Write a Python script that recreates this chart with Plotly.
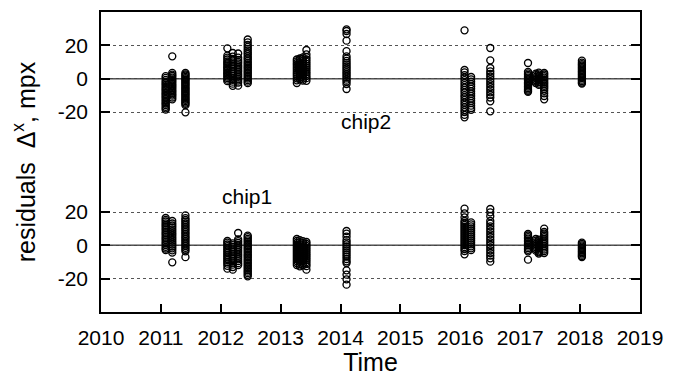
import plotly.graph_objects as go

# ---------------- data ----------------
CHIP2_OFFSET = 100  # chip2 is drawn shifted up by this many mpx

epochs = [2011.08, 2011.19, 2011.41, 2012.11, 2012.20, 2012.29, 2012.45,
          2013.27, 2013.32, 2013.37, 2013.43, 2014.10,
          2016.07, 2016.18, 2016.50, 2017.13, 2017.26, 2017.31, 2017.40, 2018.03]

chip2_res = [
    [1.5, 0.5, -0.8, -1.9, -2.7, -3.6, -4.5, -5.6, -6.3, -7.2, -8.1, -9.0, -9.8, -10.7, -11.5, -12.4, -13.3, -14.1, -15.0, -15.8, -16.9, -17.8, -18.6],
    [13.4, 3.5, 2.4, 1.6, 0.6, -0.4, -1.3, -2.1, -3.2, -4.0, -4.9, -5.7, -6.8, -7.6, -8.5, -9.4, -10.2, -11.3, -12.4],
    [3.4, 2.6, 1.9, 1.1, 0.3, -0.5, -1.2, -2.0, -2.8, -3.5, -4.3, -5.1, -5.8, -6.6, -7.4, -8.1, -8.9, -9.7, -10.4, -11.2, -12.0, -12.7, -13.5, -14.3, -15.1, -15.9, -20.2],
    [18.2, 13.8, 12.6, 11.5, 10.3, 9.4, 8.6, 7.5, 6.7, 5.8, 4.9, 3.9, 3.1, 2.2, 1.3, 0.4, -0.6, -1.5],
    [15.4, 13.2, 11.8, 10.9, 9.8, 8.7, 7.9, 6.8, 5.7, 4.6, 3.8, 2.7, 1.6, 0.5, -0.7, -1.8, -3.0, -4.3],
    [15.1, 12.6, 11.2, 10.1, 9.2, 8.0, 7.1, 6.1, 5.0, 4.1, 3.0, 2.0, 1.1, 0.0, -1.1, -2.3, -4.2],
    [23.5, 21.8, 20.3, 19.1, 17.9, 16.8, 15.6, 14.7, 13.5, 12.4, 11.6, 10.5, 9.5, 8.6, 7.6, 6.7, 5.8, 4.8, 3.9, 3.0, 2.0, 1.0, 0.1, -0.9, -1.8, -2.7],
    [11.5, 10.4, 9.3, 8.2, 7.0, 5.9, 4.8, 3.6, 2.5, 1.4, 0.2, -1.0, -2.6],
    [12.1, 11.0, 9.8, 8.7, 7.5, 6.3, 5.2, 4.1, 3.0, 1.9, 0.8, -0.4],
    [12.8, 11.7, 10.5, 9.3, 8.1, 6.9, 5.8, 4.6, 3.5, 2.3, 1.2, 0.0, -1.1],
    [17.2, 14.6, 12.9, 11.5, 10.2, 8.9, 7.7, 6.5, 5.3, 4.0, 2.8, 1.5, 0.3, -1.3],
    [29.6, 28.6, 26.8, 22.8, 16.5, 13.4, 12.0, 10.7, 9.5, 8.4, 7.2, 6.1, 5.0, 3.9, 2.8, 1.7, 0.6, -0.6, -1.7, -3.2, -6.2],
    [29.0, 5.2, 3.8, 2.1, 0.6, -0.9, -2.5, -3.9, -5.4, -6.8, -8.3, -9.9, -11.2, -12.8, -14.3, -15.7, -17.2, -18.8, -20.1, -21.7, -23.2],
    [1.0, -0.4, -1.8, -3.3, -4.7, -6.1, -7.6, -9.0, -10.4, -11.9, -13.3, -14.7, -16.2, -17.6, -18.7],
    [18.4, 11.0, 6.4, 4.4, 2.9, 1.3, -0.3, -1.9, -3.4, -5.0, -6.6, -8.2, -9.7, -11.3, -13.6, -19.6],
    [9.4, 4.1, 3.2, 2.3, 1.5, 0.6, -0.3, -1.2, -2.1, -2.9, -3.8, -4.7, -5.6, -6.5, -7.3, -7.9],
    [3.0, 2.1, 1.1, 0.2, -0.8, -1.7, -2.6],
    [3.6, 2.6, 1.7, 0.8, -0.2, -1.1, -2.1, -3.0, -3.7],
    [3.4, 2.5, 1.5, 0.6, -0.4, -1.3, -2.3, -3.2, -4.2, -5.1, -6.1, -7.3, -8.8, -10.4, -12.4],
    [10.8, 9.6, 8.7, 7.9, 7.0, 6.2, 5.4, 4.5, 3.7, 2.8, 2.0, 1.1, 0.3, -0.6, -1.4, -2.3, -2.9],
]

chip1_res = [
    [16.4, 15.3, 14.3, 13.2, 12.2, 11.3, 10.2, 9.3, 8.2, 7.2, 6.3, 5.2, 4.2, 3.3, 2.2, 1.2, 0.2, -0.9, -1.9, -2.8],
    [14.6, 13.1, 11.9, 10.8, 9.6, 8.5, 7.3, 6.2, 5.0, 3.9, 2.8, 1.6, 0.5, -0.7, -1.8, -3.0, -4.4, -10.2],
    [18.0, 16.3, 15.2, 14.2, 13.1, 12.1, 11.0, 10.0, 9.0, 7.9, 6.9, 5.8, 4.8, 3.8, 2.7, 1.7, 0.6, -0.4, -1.5, -2.5, -3.6, -7.1],
    [2.6, 1.6, 0.5, -0.5, -1.6, -2.6, -3.7, -4.7, -5.8, -6.8, -7.9, -8.9, -10.0, -11.0, -12.3, -14.0],
    [1.2, 0.1, -1.0, -2.0, -3.1, -4.1, -5.2, -6.2, -7.3, -8.3, -9.4, -10.4, -11.6, -13.0, -14.6],
    [7.4, 3.6, 2.5, 1.4, 0.3, -0.8, -1.8, -2.9, -4.0, -5.1, -6.2, -7.3, -8.4, -9.5, -10.7, -11.8],
    [5.8, 4.9, 3.9, 3.0, 2.1, 1.1, 0.2, -0.8, -1.7, -2.6, -3.6, -4.5, -5.5, -6.4, -7.3, -8.3, -9.2, -10.2, -11.1, -12.0, -13.0, -13.9, -14.9, -15.8, -16.7, -17.7, -18.6],
    [3.8, 2.6, 1.4, 0.2, -1.0, -2.2, -3.4, -4.6, -5.8, -7.0, -8.2, -9.4, -10.6, -11.8],
    [3.1, 1.9, 0.7, -0.5, -1.7, -2.9, -4.1, -5.3, -6.5, -7.7, -8.9, -10.1, -11.4, -12.6],
    [2.5, 1.3, 0.1, -1.1, -2.3, -3.5, -4.7, -5.9, -7.1, -8.3, -9.5, -10.7, -12.0],
    [2.0, 0.8, -0.4, -1.6, -2.8, -4.0, -5.2, -6.4, -7.6, -8.8, -10.0, -11.3, -12.5, -14.6],
    [8.6, 7.0, 5.2, 3.1, 1.8, 0.6, -0.6, -1.8, -3.0, -4.2, -5.5, -6.8, -8.2, -9.6, -10.6, -15.0, -17.6, -20.4, -23.6],
    [22.0, 19.2, 16.8, 14.6, 13.4, 12.2, 11.0, 9.8, 8.6, 7.4, 6.2, 5.0, 3.8, 2.6, 1.4, 0.2, -1.0, -2.2, -3.4, -5.4],
    [13.8, 12.6, 11.4, 10.2, 9.0, 7.8, 6.6, 5.4, 4.2, 3.0, 1.8, 0.6, -0.6, -1.8, -2.9],
    [21.8, 19.8, 17.5, 14.6, 13.0, 11.4, 9.8, 8.2, 6.6, 5.0, 3.4, 1.8, 0.2, -1.4, -3.0, -4.6, -6.2, -7.8, -9.8],
    [6.8, 5.9, 4.9, 4.0, 3.0, 2.1, 1.1, 0.2, -0.8, -1.7, -2.7, -3.6, -8.6],
    [3.8, 2.8, 1.8, 0.8, -0.2, -1.2, -2.2, -3.2],
    [3.4, 2.4, 1.4, 0.4, -0.6, -1.6, -2.6, -3.6, -4.2, -5.0],
    [10.0, 8.0, 7.0, 5.9, 4.9, 3.8, 2.8, 1.7, 0.7, -0.4, -1.4, -2.5, -3.5, -4.6],
    [1.6, 0.8, 0.0, -0.8, -1.6, -2.4, -3.2, -4.0, -4.8, -5.6, -6.4, -7.0],
]

x_ticks = [2010, 2011, 2012, 2013, 2014, 2015, 2016, 2017, 2018, 2019]
y_tick_labels = ["-20", "0", "20"]
chip_labels = {"chip1": (2012.43, 29.4), "chip2": (2014.42, -25.8)}

# ---------------- build figure ----------------
FONT = "Liberation Sans, Arial, sans-serif"
FS = 21

def flatten(res, offset):
    xs, ys = [], []
    for t, vals in zip(epochs, res):
        for v in vals:
            xs.append(t)
            ys.append(v + offset)
    return xs, ys

fig = go.Figure()
marker = dict(symbol="circle-open", size=7, color="black", line=dict(width=1.35, color="black"))
for name, res, off in [("chip1", chip1_res, 0), ("chip2", chip2_res, CHIP2_OFFSET)]:
    xs, ys = flatten(res, off)
    fig.add_trace(go.Scatter(x=xs, y=ys, mode="markers", marker=marker, name=name,
                             showlegend=False, cliponaxis=True))

# solid zero lines for each chip
for off in (0, CHIP2_OFFSET):
    fig.add_shape(type="line", xref="paper", x0=0, x1=1, yref="y", y0=off, y1=off,
                  line=dict(color="#444444", width=1.5), layer="below")

for name, (xv, yv) in chip_labels.items():
    off = CHIP2_OFFSET if name == "chip2" else 0
    fig.add_annotation(x=xv, y=yv + off, text=name, showarrow=False,
                       font=dict(family=FONT, size=FS, color="black"))

tickvals = [-20, 0, 20, -20 + CHIP2_OFFSET, CHIP2_OFFSET, 20 + CHIP2_OFFSET]
ticktext = y_tick_labels + y_tick_labels

fig.update_layout(
    width=677, height=368,
    margin=dict(l=93, r=45, t=4, b=64, autoexpand=False),
    paper_bgcolor="white", plot_bgcolor="white",
    font=dict(family=FONT, size=FS, color="black"),
    xaxis=dict(range=[2010, 2019], tickvals=x_ticks, ticks="inside", ticklen=8,
               tickwidth=1.5, tickcolor="black", showline=True, linecolor="black",
               linewidth=1.5, mirror=True, showgrid=False, zeroline=False,
               ticklabelstandoff=6,
               title=dict(text="Time", standoff=17),
               tickfont=dict(size=FS)),
    yaxis=dict(range=[-40, 140], tickvals=tickvals, ticktext=ticktext,
               ticks="inside", ticklen=9, tickwidth=1.5, tickcolor="black",
               showline=True, linecolor="black", linewidth=1.5, mirror="ticks",
               showgrid=True, gridcolor="#555555", griddash="dot", gridwidth=1,
               zeroline=False, ticklabelstandoff=7,
               title=dict(text="residuals \u00a0\u0394<sup>x</sup>, mpx", standoff=20),
               tickfont=dict(size=FS)),
)

fig.write_html("out.html")
